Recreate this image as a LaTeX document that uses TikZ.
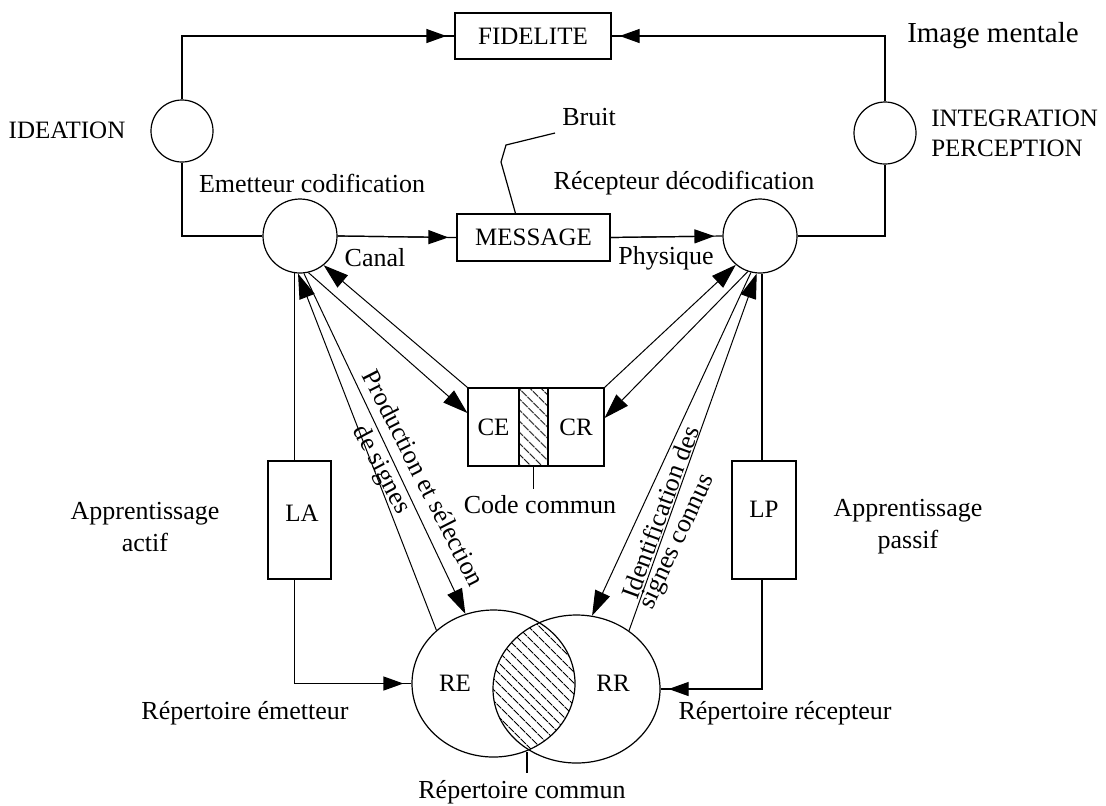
\documentclass[tikz,border=0pt]{standalone}
\usepackage{fontspec}
\setmainfont{Liberation Serif}
\usetikzlibrary{arrows.meta,shapes.geometric,patterns.meta,calc}

\begin{document}
\begin{tikzpicture}[x=0.5pt,y=-0.5pt,
  line width=0.6pt,
  every node/.style={font=\fontsize{13}{16}\selectfont},
  caps/.style={font=\fontsize{12.5}{15}\selectfont},
  box/.style={draw,rectangle,inner sep=0pt},
  circ/.style={draw,circle,inner sep=0pt,minimum size=#1},
  tip/.style={line width=0.5pt,-{Triangle[length=12.5pt,width=8pt]}},
  stubarrow/.style={postaction={draw,shorten >=4pt,
      -{Triangle[length=10pt,width=7pt]}}},
  hatch/.style={pattern={Lines[angle=-45,distance=4pt,line width=0.5pt]}},
]
\useasboundingbox (0,0) rectangle (1106,805);

% upper loop: ideation, fidelity, integration
\node[box,caps,minimum width=78pt,minimum height=23pt] (fid) at (533,36) {FIDELITE};
\node[font=\fontsize{14.5}{17}\selectfont] (img) at (993,36) {Image mentale};
\node[circ=31pt] (idea) at (182,131) {};
\node[circ=31pt] (integ) at (885,133) {};
\node[caps] (idlab) at (67,130) {IDEATION};
\node[caps,align=left,anchor=west] (inlab) at (924,133) {INTEGRATION\\PERCEPTION};

\node[circ=37pt] (em) at (300,236) {};
\node[circ=37pt] (rc) at (760,236) {};
\node (emlab) at (312,183) {Emetteur codification};
\node (rclab) at (684,183) {Récepteur décodification};

\node[box,caps,minimum width=76.5pt,minimum height=23.5pt] (msg) at (533.5,237.5) {MESSAGE};
\node (canal) at (375,258) {Canal};
\node (phys) at (666,258) {Physique};
\node (bruit) at (589,117) {Bruit};

\draw[stubarrow] (idea.north) |- (fid.west);
\draw[stubarrow] (integ.north) |- (fid.east);
\draw (idea.south) |- (em.west);
\draw (rc.east) -| (integ.south);
\draw[stubarrow] (em.east) -- (msg.west);
\draw[stubarrow] (msg.east) -- (rc.west);
\draw (bruit.south west) -- (506,145) -- (501,162) -- ([xshift=-9pt]msg.north);

% common code
\node[box,caps,minimum width=25.5pt,minimum height=39pt] (ce) at (493.5,427) {CE};
\node[box,hatch,minimum width=14.5pt,minimum height=39pt] (cc) at (533.5,427) {};
\node[box,caps,minimum width=28pt,minimum height=39pt] (cr) at (576,427) {CR};
\node (cclab) at (540,505) {Code commun};
\draw (cc.south) -- (cc.south |- cclab.north);

% learning branches
\node[box,minimum width=31.5pt,minimum height=59pt] (la) at (299.5,520) {};
\node[caps] (latxt) at (302,513) {LA};
\node[box,minimum width=32pt,minimum height=59pt] (lp) at (764,520) {};
\node[caps] (lptxt) at (764,509) {LP};
\node[align=center] (aact) at (145,527) {Apprentissage\\actif};
\node[align=center] (apas) at (908,527) {Apprentissage\\passif};

% repertoires
\node[draw,ellipse,inner sep=0pt,minimum width=81.5pt,minimum height=73.5pt] (re) at (493.5,683.5) {};
\node[draw,ellipse,inner sep=0pt,minimum width=83.5pt,minimum height=74pt] (rr) at (576.5,689) {};
\begin{scope}
  \clip (re.center) ellipse [x radius=40.75pt,y radius=36.75pt];
  \fill[hatch] (rr.center) ellipse [x radius=41.75pt,y radius=37pt];
\end{scope}
\node[caps] (retxt) at (455,683) {RE};
\node[caps] (rrtxt) at (613,683) {RR};
\node (remlab) at (245,713) {Répertoire émetteur};
\node (rrelab) at (785,713) {Répertoire récepteur};
\node (rcomlab) at (522,792) {Répertoire commun};
\coordinate (inter) at (527,752);
\draw (inter) -- (inter |- rcomlab.north);

\draw (em.-99) -- (em.-99 |- la.north);
\draw[stubarrow] (la.south -| em.-99) |- (re.west);
\draw (rc.-87) -- (rc.-87 |- lp.north);
\draw[stubarrow] (lp.south -| rc.-87) |- (rr.east);

% exchanges with the code and the repertoires
\draw[tip] (ce.north west) -- (em.-51);
\draw[tip] (em.-77) -- ([yshift=7pt]ce.west);
\draw[tip] (re.137) -- (em.-93);
\draw[tip] (em.-84) -- (re.112);
\draw[tip] (cr.north east) -- (rc.-130);
\draw[tip] (rc.-109) -- ([yshift=4.5pt]cr.east);
\draw[tip] (rc.-104) -- (rr.78);
\draw[tip] (rr.48) -- (rc.-95);

\node[rotate=-63] (prod) at (424,478) {Production et sélection};
\node[rotate=-62] (prod2) at (381,470) {de signes};
\node[rotate=70] (ident) at (660,512) {Identification des};
\node[rotate=65] (ident2) at (678,542) {signes connus};
\end{tikzpicture}
\end{document}
